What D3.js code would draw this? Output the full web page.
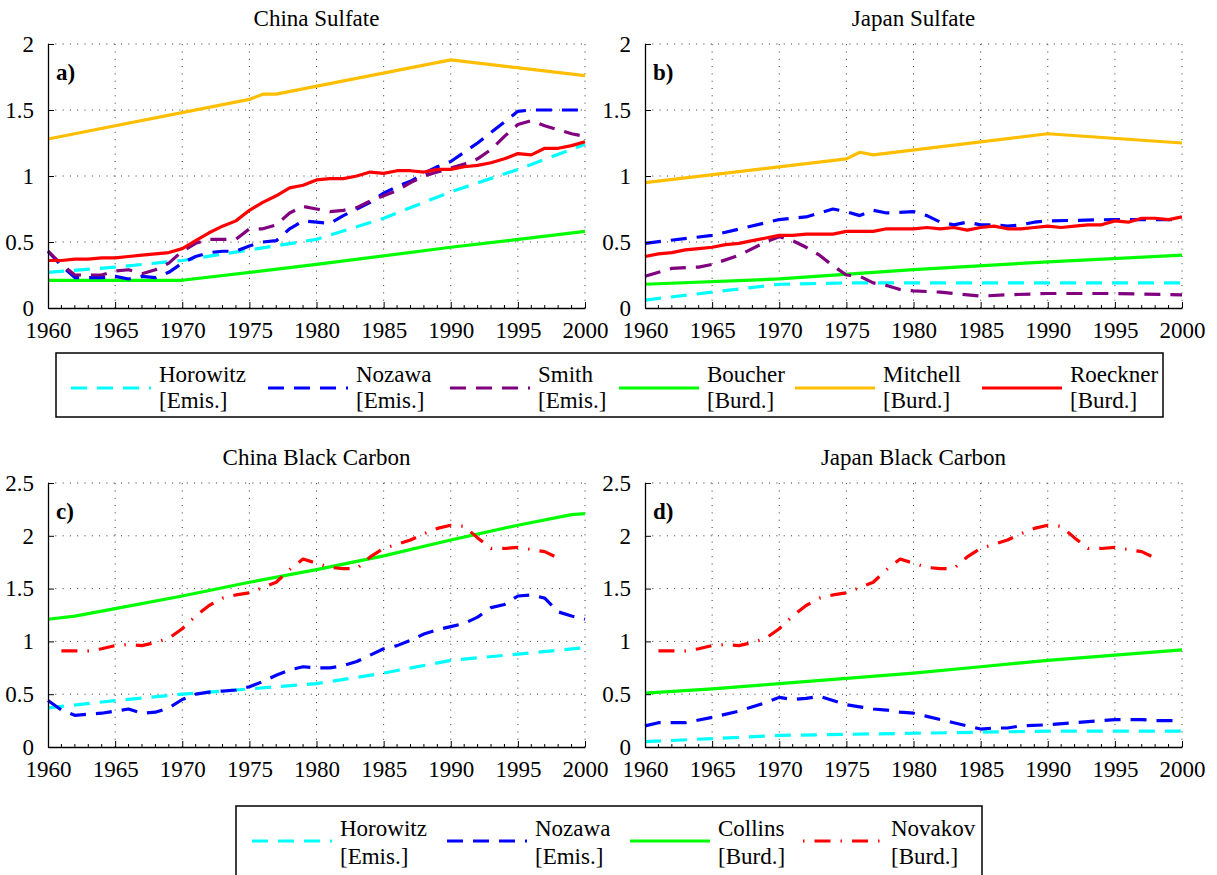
<!DOCTYPE html>
<html>
<head>
<meta charset="utf-8">
<script src="https://cdn.jsdelivr.net/npm/d3@7"></script>
<style>
  body { margin: 0; background: #fff; }
  svg { display: block; }
  text { font-family: "Liberation Serif", "Times New Roman", serif; fill: #000; }
</style>
</head>
<body>
<svg id="chart" width="1217" height="875"></svg>
<script>
// ---------- data ----------
const annualYears = d3.range(1960, 2001);

// China sulfate
const chinaHorowitzSYears = [1960, 1965, 1970, 1975, 1980, 1985, 1990, 1995, 2000];
const chinaHorowitzS = [0.27, 0.31, 0.36, 0.44, 0.52, 0.68, 0.88, 1.05, 1.24];
const chinaNozawaS = [0.43, 0.32, 0.23, 0.23, 0.23, 0.24, 0.22, 0.24, 0.23, 0.27,
  0.34, 0.39, 0.42, 0.43, 0.43, 0.47, 0.50, 0.51, 0.60, 0.66,
  0.65, 0.64, 0.70, 0.75, 0.80, 0.87, 0.92, 0.96, 1.02, 1.07,
  1.11, 1.18, 1.25, 1.33, 1.41, 1.49, 1.50, 1.50, 1.50, 1.50, 1.50];
const chinaSmithS = [0.43, 0.33, 0.25, 0.25, 0.25, 0.28, 0.29, 0.26, 0.29, 0.34,
  0.43, 0.49, 0.52, 0.52, 0.52, 0.60, 0.60, 0.63, 0.72, 0.77,
  0.75, 0.73, 0.74, 0.76, 0.81, 0.85, 0.89, 0.95, 1.00, 1.03,
  1.06, 1.09, 1.13, 1.20, 1.30, 1.39, 1.42, 1.38, 1.35, 1.32, 1.30];
const chinaBoucherYears = [1960, 1970, 1980, 1990, 2000];
const chinaBoucher = [0.21, 0.21, 0.33, 0.46, 0.58];
const chinaMitchellYears = [1960, 1975, 1976, 1977, 1990, 2000];
const chinaMitchell = [1.28, 1.58, 1.62, 1.62, 1.88, 1.76];
const chinaRoeckner = [0.36, 0.36, 0.37, 0.37, 0.38, 0.38, 0.39, 0.40, 0.41, 0.42,
  0.45, 0.51, 0.57, 0.62, 0.66, 0.74, 0.80, 0.85, 0.91, 0.93,
  0.97, 0.98, 0.98, 1.00, 1.03, 1.02, 1.04, 1.04, 1.03, 1.05,
  1.05, 1.07, 1.08, 1.10, 1.13, 1.17, 1.16, 1.21, 1.21, 1.23, 1.26];

// Japan sulfate
const japanHorowitzSYears = [1960, 1965, 1970, 1975, 1980, 1985, 1990, 1995, 2000];
const japanHorowitzS = [0.06, 0.12, 0.18, 0.19, 0.19, 0.19, 0.19, 0.19, 0.19];
const japanNozawaSYears = [1960, 1965, 1970, 1972, 1974, 1975, 1976, 1977, 1978, 1980,
  1981, 1982, 1983, 1984, 1985, 1986, 1987, 1988, 1989, 1990, 1995, 1996, 2000];
const japanNozawaS = [0.49, 0.55, 0.67, 0.69, 0.75, 0.73, 0.70, 0.74, 0.72, 0.73,
  0.70, 0.65, 0.63, 0.65, 0.63, 0.63, 0.62, 0.63, 0.65, 0.66, 0.67, 0.67, 0.67];
const japanSmithSYears = [1960, 1962, 1964, 1965, 1967, 1969, 1970, 1971, 1972, 1973,
  1974, 1975, 1976, 1977, 1978, 1979, 1980, 1982, 1983, 1985, 1987, 1990, 1992, 1995, 2000];
const japanSmithS = [0.24, 0.30, 0.31, 0.33, 0.40, 0.50, 0.54, 0.51, 0.46, 0.40,
  0.32, 0.25, 0.24, 0.19, 0.17, 0.14, 0.13, 0.12, 0.11, 0.09, 0.10, 0.11, 0.11, 0.11, 0.10];
const japanBoucherYears = [1960, 1970, 1980, 1990, 2000];
const japanBoucher = [0.18, 0.22, 0.29, 0.35, 0.40];
const japanMitchellYears = [1960, 1975, 1976, 1977, 1990, 2000];
const japanMitchell = [0.95, 1.13, 1.18, 1.16, 1.32, 1.25];
const japanRoeckner = [0.39, 0.41, 0.42, 0.44, 0.45, 0.46, 0.48, 0.49, 0.51, 0.53,
  0.55, 0.55, 0.56, 0.56, 0.56, 0.58, 0.58, 0.58, 0.60, 0.60,
  0.60, 0.61, 0.60, 0.61, 0.59, 0.61, 0.62, 0.60, 0.60, 0.61,
  0.62, 0.61, 0.62, 0.63, 0.63, 0.66, 0.65, 0.68, 0.68, 0.67, 0.69];

// China black carbon
const chinaHorowitzBCYears = [1960, 1965, 1970, 1975, 1980, 1985, 1990, 1995, 2000];
const chinaHorowitzBC = [0.37, 0.44, 0.50, 0.55, 0.60, 0.70, 0.82, 0.88, 0.94];
const chinaNozawaBC = [0.44, 0.35, 0.30, 0.31, 0.32, 0.34, 0.36, 0.32, 0.33, 0.37,
  0.45, 0.50, 0.52, 0.53, 0.54, 0.57, 0.62, 0.68, 0.73, 0.76,
  0.75, 0.75, 0.77, 0.81, 0.87, 0.93, 0.96, 1.01, 1.07, 1.11,
  1.14, 1.17, 1.23, 1.32, 1.35, 1.43, 1.44, 1.41, 1.28, 1.24, 1.21];
const chinaCollinsYears = [1960, 1962, 1965, 1970, 1975, 1980, 1985, 1990, 1995, 1999, 2000];
const chinaCollins = [1.21, 1.24, 1.31, 1.43, 1.56, 1.68, 1.81, 1.96, 2.10, 2.20, 2.21];

// Novakov burden (same curve in both black-carbon panels)
const novakovYears = d3.range(1961, 1999);
const novakovBC = [0.91, 0.91, 0.91, 0.93, 0.96, 0.97, 0.96, 0.99, 1.03,
  1.12, 1.24, 1.34, 1.41, 1.44, 1.46, 1.51, 1.56, 1.68, 1.78,
  1.74, 1.70, 1.69, 1.69, 1.80, 1.88, 1.92, 1.96, 2.02, 2.07,
  2.10, 2.09, 1.98, 1.88, 1.88, 1.89, 1.87, 1.85, 1.79];

// Japan black carbon
const japanHorowitzBCYears = [1960, 1965, 1970, 1975, 1980, 1985, 1990, 1995, 2000];
const japanHorowitzBC = [0.05, 0.08, 0.11, 0.12, 0.13, 0.14, 0.15, 0.15, 0.15];
const japanNozawaBCYears = [1960, 1961, 1963, 1965, 1967, 1969, 1970, 1971, 1972, 1973,
  1974, 1975, 1976, 1977, 1978, 1979, 1980, 1981, 1982, 1983, 1984, 1985, 1986, 1987,
  1988, 1990, 1992, 1994, 1995, 1996, 1997, 1998, 2000];
const japanNozawaBC = [0.20, 0.23, 0.23, 0.28, 0.34, 0.42, 0.47, 0.45, 0.46, 0.48,
  0.44, 0.40, 0.38, 0.36, 0.35, 0.33, 0.32, 0.29, 0.26, 0.23, 0.20, 0.17, 0.18, 0.18,
  0.20, 0.21, 0.23, 0.25, 0.26, 0.26, 0.26, 0.25, 0.25];
const japanCollinsYears = [1960, 1965, 1970, 1975, 1980, 1985, 1990, 1995, 2000];
const japanCollins = [0.51, 0.55, 0.60, 0.65, 0.70, 0.76, 0.82, 0.87, 0.92];

// tick labels
const xTicks = [1960, 1965, 1970, 1975, 1980, 1985, 1990, 1995, 2000];
const sulfateTicks = [0, 0.5, 1, 1.5, 2];
const bcTicks = [0, 0.5, 1, 1.5, 2, 2.5];

// ---------- styles ----------
const styles = {
  horowitz: { color: "#00FFFF", dash: "16,10", legendDash: "16,10" },
  nozawa:   { color: "#0000FF", dash: "16,10", legendDash: "16,10" },
  smith:    { color: "#800080", dash: "16,10", legendDash: "16,10" },
  boucher:  { color: "#00FF00", dash: null, legendDash: null },
  collins:  { color: "#00FF00", dash: null, legendDash: null },
  mitchell: { color: "#FFBF00", dash: null, legendDash: null },
  roeckner: { color: "#FF0000", dash: null, legendDash: null },
  novakov:  { color: "#FF0000", dash: "16,10,1.5,10", legendDash: "1.5,10,16,10" }
};

const svg = d3.select("#chart");
svg.append("rect").attr("width", 1217).attr("height", 875).attr("fill", "#fff");

const pair = (xs, ys) => xs.map((x, i) => [x, ys[i]]);

function drawPanel(p) {
  const x = d3.scaleLinear().domain([1960, 2000]).range([p.left, p.right]);
  const y = d3.scaleLinear().domain([0, p.ymax]).range([p.bottom, p.top]);
  const g = svg.append("g");

  // dotted grid
  const grid = g.append("g").attr("stroke", "#333").attr("stroke-width", 1)
    .attr("stroke-dasharray", "1,6.3");
  xTicks.forEach(t => {
    if (t === 1960) return;
    grid.append("line").attr("x1", x(t)).attr("x2", x(t))
      .attr("y1", p.bottom).attr("y2", p.top);
  });
  p.ticks.forEach(t => {
    if (t === 0) return;
    grid.append("line").attr("x1", p.left).attr("x2", p.right)
      .attr("y1", y(t)).attr("y2", y(t));
  });

  // series
  const line = d3.line().x(d => x(d[0])).y(d => y(d[1]));
  p.series.forEach(s => {
    const st = styles[s.key];
    g.append("path").datum(s.data)
      .attr("d", line)
      .attr("fill", "none")
      .attr("stroke", st.color)
      .attr("stroke-width", 3.2)
      .attr("stroke-linejoin", "round")
      .attr("stroke-dasharray", st.dash);
  });

  // axes (inward ticks, left and bottom only)
  const xAxis = d3.axisBottom(x).tickValues(xTicks).tickFormat(d3.format("d"))
    .tickSizeInner(-6).tickSizeOuter(0).tickPadding(13);
  const gx = g.append("g").attr("transform", `translate(0,${p.bottom})`).call(xAxis);
  const yAxis = d3.axisLeft(y).tickValues(p.ticks).tickFormat(d => String(d))
    .tickSizeInner(-6).tickSizeOuter(0).tickPadding(14);
  const gy = g.append("g").attr("transform", `translate(${p.left},0)`).call(yAxis);
  [gx, gy].forEach(a => {
    a.select(".domain").attr("stroke", "#000").attr("stroke-width", 1.3);
    a.selectAll(".tick line").attr("stroke", "#000").attr("stroke-width", 1);
    a.selectAll("text").style("font-family", "'Liberation Serif', serif")
      .style("font-size", "23px").attr("fill", "#000");
  });
  gx.selectAll("text").attr("dy", "0.75em");

  // minor ticks every year on the x axis
  const minor = g.append("g").attr("stroke", "#000").attr("stroke-width", 1);
  annualYears.forEach(t => {
    if (t % 5 === 0) return;
    minor.append("line").attr("x1", x(t)).attr("x2", x(t))
      .attr("y1", p.bottom).attr("y2", p.bottom - 3);
  });

  // title and panel letter
  g.append("text").attr("x", (p.left + p.right) / 2).attr("y", p.top - 18)
    .attr("text-anchor", "middle").style("font-size", "23px").text(p.title);
  g.append("text").attr("x", p.left + 8).attr("y", p.top + 36)
    .style("font-size", "23px").style("font-weight", "bold").text(p.letter);
}

const L = [48, 585], R = [645, 1182];
const topRow = [44, 308], botRow = [483, 747];

drawPanel({ left: L[0], right: L[1], top: topRow[0], bottom: topRow[1], ymax: 2,
  ticks: sulfateTicks, title: "China Sulfate", letter: "a)",
  series: [
    { key: "boucher", data: pair(chinaBoucherYears, chinaBoucher) },
    { key: "mitchell", data: pair(chinaMitchellYears, chinaMitchell) },
    { key: "horowitz", data: pair(chinaHorowitzSYears, chinaHorowitzS) },
    { key: "nozawa", data: pair(annualYears, chinaNozawaS) },
    { key: "smith", data: pair(annualYears, chinaSmithS) },
    { key: "roeckner", data: pair(annualYears, chinaRoeckner) }
  ] });

drawPanel({ left: R[0], right: R[1], top: topRow[0], bottom: topRow[1], ymax: 2,
  ticks: sulfateTicks, title: "Japan Sulfate", letter: "b)",
  series: [
    { key: "boucher", data: pair(japanBoucherYears, japanBoucher) },
    { key: "mitchell", data: pair(japanMitchellYears, japanMitchell) },
    { key: "horowitz", data: pair(japanHorowitzSYears, japanHorowitzS) },
    { key: "smith", data: pair(japanSmithSYears, japanSmithS) },
    { key: "nozawa", data: pair(japanNozawaSYears, japanNozawaS) },
    { key: "roeckner", data: pair(annualYears, japanRoeckner) }
  ] });

drawPanel({ left: L[0], right: L[1], top: botRow[0], bottom: botRow[1], ymax: 2.5,
  ticks: bcTicks, title: "China Black Carbon", letter: "c)",
  series: [
    { key: "horowitz", data: pair(chinaHorowitzBCYears, chinaHorowitzBC) },
    { key: "nozawa", data: pair(annualYears, chinaNozawaBC) },
    { key: "collins", data: pair(chinaCollinsYears, chinaCollins) },
    { key: "novakov", data: pair(novakovYears, novakovBC) }
  ] });

drawPanel({ left: R[0], right: R[1], top: botRow[0], bottom: botRow[1], ymax: 2.5,
  ticks: bcTicks, title: "Japan Black Carbon", letter: "d)",
  series: [
    { key: "horowitz", data: pair(japanHorowitzBCYears, japanHorowitzBC) },
    { key: "nozawa", data: pair(japanNozawaBCYears, japanNozawaBC) },
    { key: "collins", data: pair(japanCollinsYears, japanCollins) },
    { key: "novakov", data: pair(novakovYears, novakovBC) }
  ] });

// ---------- legends ----------
const sulfateLegend = [
  { key: "horowitz", name: "Horowitz", kind: "[Emis.]" },
  { key: "nozawa", name: "Nozawa", kind: "[Emis.]" },
  { key: "smith", name: "Smith", kind: "[Emis.]" },
  { key: "boucher", name: "Boucher", kind: "[Burd.]" },
  { key: "mitchell", name: "Mitchell", kind: "[Burd.]" },
  { key: "roeckner", name: "Roeckner", kind: "[Burd.]" }
];
const bcLegend = [
  { key: "horowitz", name: "Horowitz", kind: "[Emis.]" },
  { key: "nozawa", name: "Nozawa", kind: "[Emis.]" },
  { key: "collins", name: "Collins", kind: "[Burd.]" },
  { key: "novakov", name: "Novakov", kind: "[Burd.]" }
];

function drawLegend(items, box, starts, lineY, base1, base2) {
  const g = svg.append("g");
  g.append("rect").attr("x", box.x).attr("y", box.y)
    .attr("width", box.w).attr("height", box.h)
    .attr("fill", "#fff").attr("stroke", "#000").attr("stroke-width", 1.5);
  items.forEach((it, i) => {
    const st = styles[it.key];
    const x0 = starts[i];
    g.append("line").attr("x1", x0).attr("x2", x0 + 80)
      .attr("y1", lineY).attr("y2", lineY)
      .attr("stroke", st.color).attr("stroke-width", 3.2)
      .attr("stroke-dasharray", st.legendDash);
    g.append("text").attr("x", x0 + 88).attr("y", base1)
      .style("font-size", "23px").text(it.name);
    g.append("text").attr("x", x0 + 88).attr("y", base2)
      .style("font-size", "23px").text(it.kind);
  });
}

drawLegend(sulfateLegend, { x: 56, y: 353, w: 1107, h: 64 },
  [71, 268, 450, 619, 795, 982], 388, 382, 408);
drawLegend(bcLegend, { x: 236, y: 806, w: 746, h: 72 },
  [252, 447, 630, 803], 841, 836, 864);
</script>
</body>
</html>
